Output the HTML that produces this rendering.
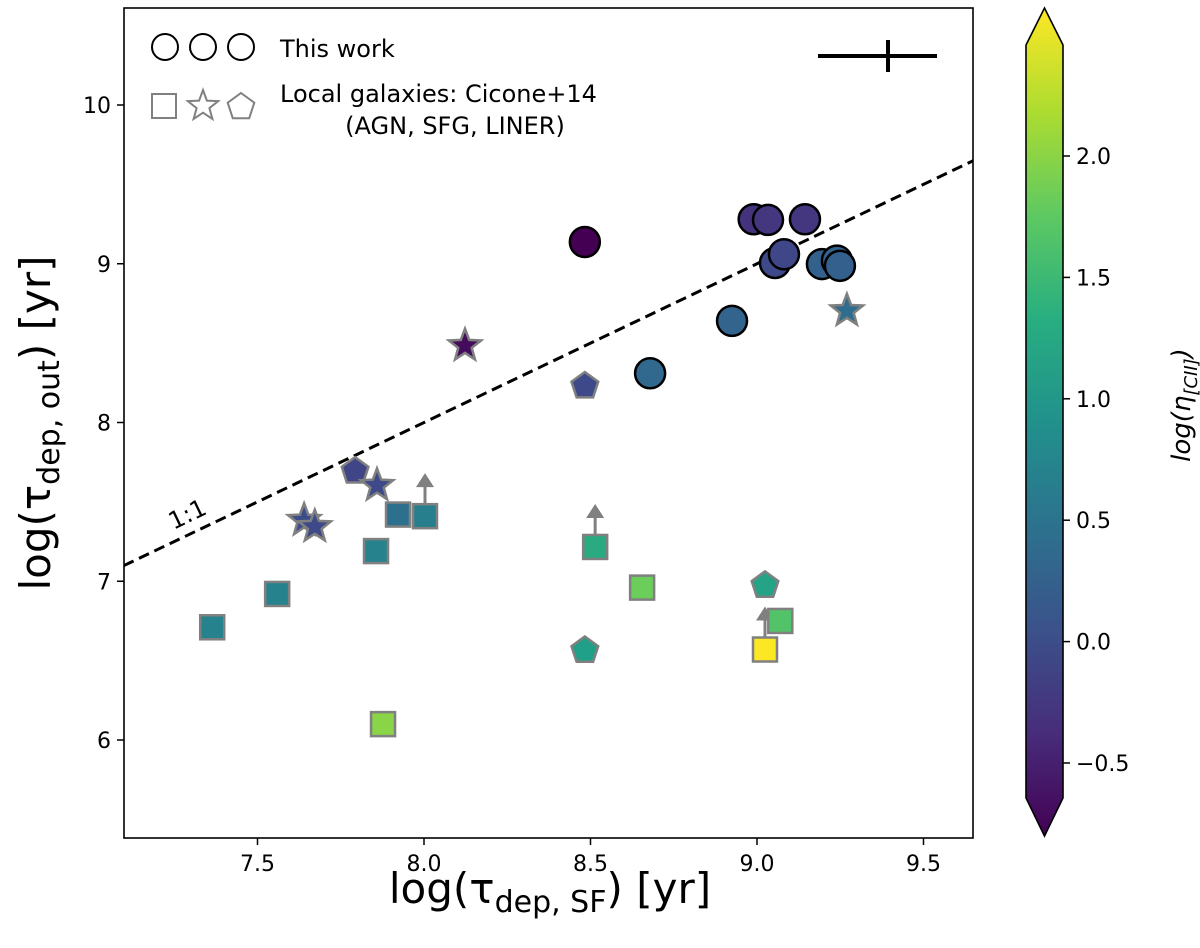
<!DOCTYPE html>
<html><head><meta charset="utf-8"><style>
body{margin:0;background:#fff;}
svg{display:block;font-family:"DejaVu Sans","Liberation Sans",sans-serif;}
</style></head><body>
<svg id="chart" width="1200" height="948" viewBox="0 0 1200 948">
<defs>
<linearGradient id="vir" x1="0" y1="1" x2="0" y2="0">
<stop offset="0" stop-color="#440154"/><stop offset="0.125" stop-color="#472d7b"/><stop offset="0.25" stop-color="#3b528b"/><stop offset="0.375" stop-color="#2c728e"/><stop offset="0.5" stop-color="#21918c"/><stop offset="0.625" stop-color="#28ae80"/><stop offset="0.75" stop-color="#5ec962"/><stop offset="0.875" stop-color="#addc30"/><stop offset="1" stop-color="#fde725"/>
</linearGradient>
<clipPath id="plotclip"><rect x="124" y="8" width="849" height="830"/></clipPath>
</defs>
<g id="marks" clip-path="url(#plotclip)"></g>
<rect x="124" y="8" width="849" height="830" fill="none" stroke="#000" stroke-width="1.6"/>
<g id="axes"></g>
<g>
<circle cx="165" cy="47" r="13" fill="none" stroke="#000" stroke-width="2"/>
<circle cx="203" cy="47" r="13" fill="none" stroke="#000" stroke-width="2"/>
<circle cx="241" cy="47" r="13" fill="none" stroke="#000" stroke-width="2"/>
<text x="280" y="57" font-size="24">This work</text>
<rect x="152" y="94" width="24" height="24" fill="none" stroke="#808080" stroke-width="2"/>
<polygon id="lgstar" fill="none" stroke="#808080" stroke-width="2"/>
<polygon id="lgpent" fill="none" stroke="#808080" stroke-width="2"/>
<text x="280" y="102" font-size="24">Local galaxies: Cicone+14</text>
<text x="455" y="134" font-size="24" text-anchor="middle">(AGN, SFG, LINER)</text>
</g>
<g>
<line x1="818" y1="56" x2="937" y2="56" stroke="#000" stroke-width="4"/>
<line x1="888" y1="40" x2="888" y2="72" stroke="#000" stroke-width="4"/>
</g>
<g>
<polygon points="1026,45 1044.5,8 1063,45 1063,798 1044.5,836 1026,798" fill="url(#vir)" stroke="#000" stroke-width="1.6"/>
<g id="cbticks"></g>
<text transform="translate(1190,405) rotate(-90)" text-anchor="middle" font-size="26" font-style="italic">log(<tspan>η</tspan><tspan font-size="18" dy="7">[CII]</tspan><tspan dy="-7">)</tspan></text>
</g>
<text x="550" y="903" text-anchor="middle" font-size="42">log(τ<tspan font-size="30" dy="9">dep, SF</tspan><tspan dy="-9">) [yr]</tspan></text>
<text transform="translate(50,423) rotate(-90)" text-anchor="middle" font-size="42">log(τ<tspan font-size="30" dy="9">dep, out</tspan><tspan dy="-9">) [yr]</tspan></text>
</svg>
<script>
const xTicks=[7.5,8.0,8.5,9.0,9.5];
const yTicks=[6,7,8,9,10];
const cbTicks=[-0.5,0.0,0.5,1.0,1.5,2.0];
// This work (circles)
const cX=[8.483,8.99,9.033,9.144,9.054,9.081,9.195,9.24,9.249,8.925,8.679];
const cY=[9.137,9.28,9.276,9.28,9.005,9.06,8.998,9.02,8.987,8.64,8.31];
const cC=[-0.7,-0.2,-0.15,-0.15,0.05,0.02,0.3,0.3,0.3,0.35,0.4];
// Local squares
const sX=[8.514,8.655,9.07,9.024,7.922,8.003,7.856,7.559,7.364,7.877];
const sY=[7.216,6.96,6.75,6.57,7.42,7.41,7.19,6.92,6.71,6.10];
const sC=[1.25,1.75,1.6,2.45,0.5,0.7,0.75,0.75,0.75,1.9];
const sUp=[1,0,0,1,0,1,0,0,0,0];
// Local stars
const tX=[9.27,8.123,7.859,7.64,7.672];
const tY=[8.71,8.49,7.61,7.39,7.35];
const tC=[0.45,-0.55,0.05,0.1,0.05];
// Local pentagons
const pX=[8.483,9.024,8.483,7.793];
const pY=[8.236,6.98,6.57,7.70];
const pC=[0.05,1.15,1.1,0.0];

const NS='http://www.w3.org/2000/svg';
const X=v=>424+(v-8)*333;
const Y=v=>740-(v-6)*158.75;
const CBY=v=>763-(v+0.5)*242.8;
const vmin=-0.644,vmax=2.457;
const vir=[[68,1,84],[72,40,120],[62,73,137],[49,104,142],[38,130,142],[31,158,137],[53,183,121],[110,206,88],[181,222,43],[253,231,37]];
function col(v){let t=(v-vmin)/(vmax-vmin);t=Math.max(0,Math.min(1,t))*9;const i=Math.min(8,Math.floor(t)),f=t-i;const a=vir[i],b=vir[i+1];return 'rgb('+a.map((c,k)=>Math.round(c+(b[k]-c)*f)).join(',')+')';}
function mk(tag,attrs,parent){const e=document.createElementNS(NS,tag);for(const k in attrs)e.setAttribute(k,attrs[k]);parent.appendChild(e);return e;}
function starPts(cx,cy,R){const r=R*0.42;let p=[];for(let i=0;i<10;i++){const a=-Math.PI/2+i*Math.PI/5;const rr=i%2?r:R;p.push((cx+rr*Math.cos(a)).toFixed(1)+','+(cy+rr*Math.sin(a)).toFixed(1));}return p.join(' ');}
function pentPts(cx,cy,R){let p=[];for(let i=0;i<5;i++){const a=-Math.PI/2+i*2*Math.PI/5;p.push((cx+R*Math.cos(a)).toFixed(1)+','+(cy+R*Math.sin(a)).toFixed(1));}return p.join(' ');}
document.getElementById('lgstar').setAttribute('points',starPts(203,106,16));
document.getElementById('lgpent').setAttribute('points',pentPts(241,107,14));

const axes=document.getElementById('axes');
xTicks.forEach(v=>{
 const l=mk('line',{x1:X(v),y1:838,x2:X(v),y2:845,stroke:'#000','stroke-width':1.5},axes);
 
 
 const t=mk('text',{x:X(v),y:871,'text-anchor':'middle','font-size':22},axes);
 
 
 t.textContent=v.toFixed(1);
});
yTicks.forEach(v=>{
 const l=mk('line',{x1:117,y1:Y(v),x2:124,y2:Y(v),stroke:'#000','stroke-width':1.5},axes);
 
 
 const t=mk('text',{x:111,y:Y(v)+8,'text-anchor':'end','font-size':22},axes);
 
 
 t.textContent=String(v);
});
const cbt=document.getElementById('cbticks');
cbTicks.forEach(v=>{
 const l=mk('line',{x1:1063,y1:CBY(v),x2:1070,y2:CBY(v),stroke:'#000','stroke-width':1.5},cbt);
 
 
 const t=mk('text',{x:1076,y:CBY(v)+8,'font-size':22},cbt);
 
 
 t.textContent=(v<0?'\u22120.5':v.toFixed(1));
});

const g=document.getElementById('marks');
const ln=mk('line',{x1:X(7.098),y1:Y(7.098),x2:X(9.65),y2:Y(9.65),stroke:'#000','stroke-width':3,'stroke-dasharray':'11,6'},g);


const lt=mk('text',{x:0,y:0,'font-size':24,transform:'translate('+(X(7.3))+','+(Y(7.3)-12)+') rotate(-25.5)','text-anchor':'middle'},g);


lt.textContent='1:1';

function arrow(x,y){
 const a=mk('line',{x1:x,y1:y-12,x2:x,y2:y-30,stroke:'#808080','stroke-width':3},g);
 
 
 const h=mk('polygon',{points:(x-9)+','+(y-29)+' '+(x+9)+','+(y-29)+' '+x+','+(y-43),fill:'#808080'},g);
 
 
}
sX.forEach((v,i)=>{ if(sUp[i]) arrow(X(v),Y(sY[i])); });
sX.forEach((v,i)=>{
 const r=mk('rect',{x:X(v)-12,y:Y(sY[i])-12,width:24,height:24,fill:col(sC[i]),stroke:'#808080','stroke-width':2.5},g);
 
 
});
pX.forEach((v,i)=>{
 const p=mk('polygon',{points:pentPts(X(v),Y(pY[i])+1,14),fill:col(pC[i]),stroke:'#808080','stroke-width':2.5},g);
 
 
});
tX.forEach((v,i)=>{
 const p=mk('polygon',{points:starPts(X(v),Y(tY[i])+1,17),fill:col(tC[i]),stroke:'#808080','stroke-width':2.5},g);
 
 
});
cX.forEach((v,i)=>{
 const c=mk('circle',{cx:X(v),cy:Y(cY[i]),r:15,fill:col(cC[i]),stroke:'#000','stroke-width':2.5},g);
 
 
});
</script>
</body></html>
